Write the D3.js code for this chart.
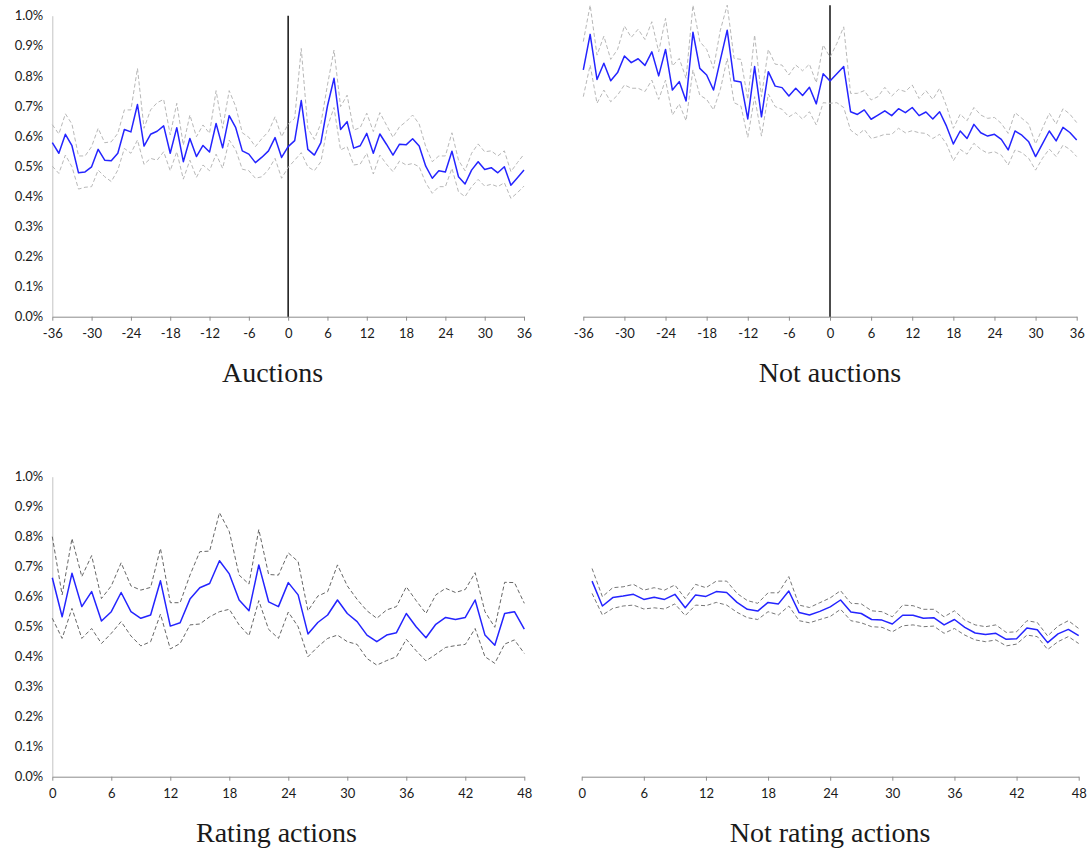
<!DOCTYPE html>
<html>
<head>
<meta charset="utf-8">
<script src="https://cdn.jsdelivr.net/npm/d3@7"></script>
<style>
    body { margin: 0; background: #fff; }
    svg { display: block; }
    .tick text { font-family: Lato, "Open Sans", sans-serif; font-size: 13px; fill: #1a1a1a; }
    .title { font-family: "Liberation Serif", "DejaVu Serif", serif; font-size: 28px; fill: #1a1a1a; }
</style>
</head>
<body>
<svg id="chart" width="1091" height="851"></svg>
<script>
// months around the event
const eventMonths = d3.range(-36, 37);
const ratingMonths = d3.range(0, 49);
const notRatingMonths = d3.range(1, 49);
const eventTicks = d3.range(-36, 37, 6);
const ratingTicks = d3.range(0, 49, 6);
const pctTicks = d3.range(0, 1.01, 0.1);

// values in percent
const auctionsMean = [0.578,0.543,0.606,0.568,0.478,0.481,0.498,0.556,0.520,0.518,0.543,0.622,0.614,0.705,0.567,0.606,0.616,0.634,0.543,0.628,0.515,0.592,0.532,0.569,0.547,0.642,0.561,0.668,0.628,0.551,0.540,0.512,0.530,0.551,0.595,0.529,0.565,
    0.585,0.718,0.556,0.537,0.578,0.700,0.792,0.622,0.648,0.560,0.568,0.609,0.543,0.607,0.573,0.537,0.573,0.571,0.591,0.567,0.500,0.460,0.485,0.481,0.550,0.465,0.441,0.487,0.515,0.489,0.495,0.478,0.498,0.437,0.462,0.487];
const auctionsUpper = [0.638,0.607,0.674,0.640,0.534,0.534,0.565,0.626,0.578,0.581,0.609,0.687,0.687,0.825,0.626,0.687,0.711,0.722,0.604,0.709,0.570,0.670,0.598,0.637,0.609,0.751,0.626,0.751,0.698,0.611,0.596,0.565,0.592,0.615,0.664,0.598,0.640,
    0.659,0.891,0.626,0.589,0.642,0.770,0.886,0.698,0.736,0.620,0.628,0.676,0.615,0.678,0.637,0.596,0.631,0.648,0.670,0.640,0.565,0.515,0.534,0.534,0.611,0.520,0.485,0.543,0.574,0.548,0.551,0.534,0.551,0.482,0.512,0.540];
const auctionsLower = [0.500,0.476,0.537,0.498,0.424,0.430,0.432,0.487,0.465,0.449,0.487,0.559,0.543,0.587,0.506,0.526,0.520,0.548,0.485,0.548,0.457,0.520,0.463,0.504,0.485,0.540,0.493,0.587,0.554,0.490,0.485,0.460,0.465,0.489,0.526,0.460,0.496,
    0.520,0.545,0.498,0.485,0.515,0.631,0.695,0.554,0.565,0.504,0.507,0.543,0.474,0.537,0.507,0.482,0.517,0.504,0.509,0.498,0.445,0.410,0.432,0.432,0.493,0.415,0.399,0.432,0.456,0.434,0.440,0.432,0.445,0.393,0.412,0.434];

const notAuctionsMean = [0.820,0.938,0.788,0.842,0.784,0.811,0.866,0.844,0.857,0.835,0.880,0.800,0.888,0.753,0.781,0.717,0.945,0.825,0.803,0.753,0.853,0.952,0.784,0.780,0.657,0.831,0.664,0.814,0.766,0.761,0.733,0.759,0.735,0.762,0.707,0.807,0.783,
    0.807,0.831,0.681,0.672,0.687,0.656,0.670,0.684,0.668,0.691,0.678,0.695,0.668,0.680,0.657,0.681,0.633,0.574,0.617,0.592,0.639,0.611,0.600,0.606,0.589,0.554,0.617,0.603,0.581,0.532,0.574,0.617,0.584,0.629,0.612,0.587];
const notAuctionsUpper = [0.914,1.035,0.869,0.932,0.855,0.888,0.966,0.928,0.955,0.921,0.980,0.880,0.991,0.833,0.858,0.792,1.035,0.914,0.888,0.825,0.952,1.035,0.858,0.855,0.722,0.936,0.731,0.888,0.839,0.836,0.803,0.836,0.817,0.839,0.777,0.903,0.862,
    0.908,0.963,0.742,0.742,0.751,0.720,0.731,0.762,0.733,0.755,0.748,0.770,0.725,0.751,0.722,0.759,0.700,0.626,0.673,0.651,0.695,0.670,0.659,0.662,0.642,0.609,0.678,0.659,0.640,0.574,0.626,0.676,0.640,0.691,0.673,0.645];
const notAuctionsLower = [0.731,0.836,0.709,0.753,0.714,0.736,0.770,0.759,0.759,0.748,0.786,0.722,0.786,0.670,0.707,0.651,0.820,0.736,0.722,0.687,0.755,0.858,0.711,0.700,0.596,0.731,0.600,0.740,0.698,0.689,0.664,0.678,0.656,0.681,0.637,0.711,0.709,
    0.711,0.695,0.620,0.603,0.622,0.592,0.598,0.606,0.606,0.626,0.611,0.618,0.611,0.609,0.592,0.606,0.574,0.518,0.556,0.540,0.576,0.556,0.543,0.548,0.537,0.504,0.554,0.545,0.526,0.487,0.526,0.557,0.532,0.570,0.556,0.532];

const ratingMean = [0.663,0.533,0.678,0.567,0.617,0.519,0.550,0.614,0.550,0.528,0.539,0.653,0.502,0.513,0.592,0.630,0.644,0.720,0.676,0.589,0.553,0.706,0.583,0.567,0.647,
    0.606,0.476,0.514,0.539,0.589,0.544,0.517,0.472,0.450,0.472,0.480,0.544,0.500,0.463,0.508,0.531,0.524,0.531,0.589,0.472,0.438,0.544,0.550,0.492];
const ratingUpper = [0.800,0.606,0.794,0.667,0.737,0.594,0.636,0.713,0.636,0.622,0.631,0.761,0.580,0.580,0.672,0.750,0.752,0.880,0.817,0.672,0.642,0.824,0.674,0.672,0.746,
    0.717,0.553,0.602,0.617,0.706,0.636,0.591,0.553,0.528,0.556,0.567,0.633,0.587,0.544,0.606,0.628,0.614,0.624,0.680,0.550,0.498,0.648,0.647,0.578];
const ratingLower = [0.528,0.461,0.561,0.461,0.494,0.444,0.478,0.517,0.469,0.436,0.450,0.542,0.426,0.444,0.506,0.509,0.533,0.550,0.558,0.506,0.470,0.587,0.491,0.461,0.549,
    0.500,0.400,0.433,0.461,0.472,0.450,0.441,0.394,0.372,0.387,0.400,0.458,0.420,0.386,0.408,0.431,0.437,0.441,0.494,0.400,0.378,0.442,0.456,0.411];

const notRatingMean = [0.652,0.569,0.597,0.602,0.608,0.591,0.598,0.591,0.608,0.563,0.606,0.601,0.617,0.614,0.581,0.558,0.552,0.581,0.576,0.619,0.547,0.539,0.551,0.566,
    0.589,0.549,0.544,0.524,0.522,0.509,0.538,0.538,0.528,0.530,0.506,0.524,0.498,0.479,0.474,0.478,0.458,0.460,0.496,0.490,0.447,0.476,0.491,0.470];
const notRatingUpper = [0.694,0.600,0.630,0.633,0.641,0.622,0.630,0.622,0.639,0.594,0.641,0.630,0.652,0.652,0.611,0.587,0.578,0.613,0.613,0.667,0.572,0.564,0.580,0.596,
    0.620,0.578,0.576,0.553,0.550,0.533,0.572,0.570,0.558,0.558,0.533,0.553,0.522,0.506,0.500,0.506,0.481,0.483,0.520,0.514,0.469,0.502,0.520,0.494];
const notRatingLower = [0.611,0.539,0.561,0.569,0.572,0.559,0.563,0.559,0.576,0.537,0.572,0.570,0.581,0.572,0.548,0.530,0.524,0.550,0.539,0.569,0.520,0.513,0.524,0.534,
    0.558,0.520,0.513,0.500,0.498,0.483,0.503,0.506,0.500,0.502,0.478,0.494,0.472,0.456,0.450,0.456,0.436,0.442,0.472,0.467,0.424,0.450,0.467,0.444];

// top of the event line, in percent
const eventLineTop = {auctions: 1.0, notAuctions: 1.035};

const svg = d3.select('#chart');

function drawPanel(p) {
    let x = d3.scaleLinear().domain(p.domain).range([p.left, p.right]);
    let y = d3.scaleLinear().domain([0, 1]).range([p.bottom, p.top]);
    let g = svg.append('g');

    // x axis
    let xAxis = g.append('g')
        .attr('transform', 'translate(0,' + p.bottom + ')')
        .call(d3.axisBottom(x).tickValues(p.ticks).tickSize(4).tickSizeOuter(0).tickPadding(8)
            .tickFormat(d => String(d)));
    xAxis.select('.domain').attr('stroke', '#8c8c8c');
    xAxis.selectAll('.tick line').attr('stroke', '#8c8c8c');

    // y axis, only on the left panels
    if (p.yAxis) {
        let yAxis = g.append('g')
            .attr('transform', 'translate(' + p.left + ',0)')
            .call(d3.axisLeft(y).tickValues(pctTicks).tickSize(0).tickPadding(9)
                .tickFormat(d => d.toFixed(1) + '%'));
        yAxis.select('.domain').attr('stroke', '#c4c4c4');
    }

    if (p.eventTop !== undefined) {
        g.append('line')
            .attr('x1', x(0)).attr('x2', x(0))
            .attr('y1', y(0)).attr('y2', y(p.eventTop))
            .attr('stroke', '#111').attr('stroke-width', 1.5);
    }

    let line = d3.line().x((d, i) => x(p.months[i])).y(d => y(d));

    [p.upper, p.lower].forEach(band => {
        g.append('path')
            .attr('d', line(band))
            .attr('fill', 'none')
            .attr('stroke', p.bandColor)
            .attr('stroke-width', 1)
            .attr('stroke-dasharray', '4,2.5');
    });

    g.append('path')
        .attr('d', line(p.mean))
        .attr('fill', 'none')
        .attr('stroke', '#2424ff')
        .attr('stroke-width', 1.5)
        .attr('stroke-linejoin', 'round');

    svg.append('text')
        .attr('class', 'title')
        .attr('x', p.titleX)
        .attr('y', p.titleY)
        .attr('text-anchor', 'middle')
        .text(p.title);
}

drawPanel({title: 'Auctions', months: eventMonths, domain: [-36, 36], ticks: eventTicks,
    mean: auctionsMean, upper: auctionsUpper, lower: auctionsLower, bandColor: '#b8b8b8',
    left: 52.3, right: 524, top: 15.7, bottom: 316.7, yAxis: true, eventTop: eventLineTop.auctions,
    titleX: 272.5, titleY: 382});
drawPanel({title: 'Not auctions', months: eventMonths, domain: [-36, 36], ticks: eventTicks,
    mean: notAuctionsMean, upper: notAuctionsUpper, lower: notAuctionsLower, bandColor: '#b8b8b8',
    left: 583.3, right: 1076.7, top: 15.7, bottom: 316.7, yAxis: false, eventTop: eventLineTop.notAuctions,
    titleX: 830, titleY: 382});
drawPanel({title: 'Rating actions', months: ratingMonths, domain: [0, 48], ticks: ratingTicks,
    mean: ratingMean, upper: ratingUpper, lower: ratingLower, bandColor: '#666',
    left: 52.3, right: 524.3, top: 476.7, bottom: 776.7, yAxis: true,
    titleX: 276.5, titleY: 842});
drawPanel({title: 'Not rating actions', months: notRatingMonths, domain: [0, 48], ticks: ratingTicks,
    mean: notRatingMean, upper: notRatingUpper, lower: notRatingLower, bandColor: '#777',
    left: 581.7, right: 1078.7, top: 476.7, bottom: 776.7, yAxis: false,
    titleX: 830, titleY: 842});
</script>
</body>
</html>
